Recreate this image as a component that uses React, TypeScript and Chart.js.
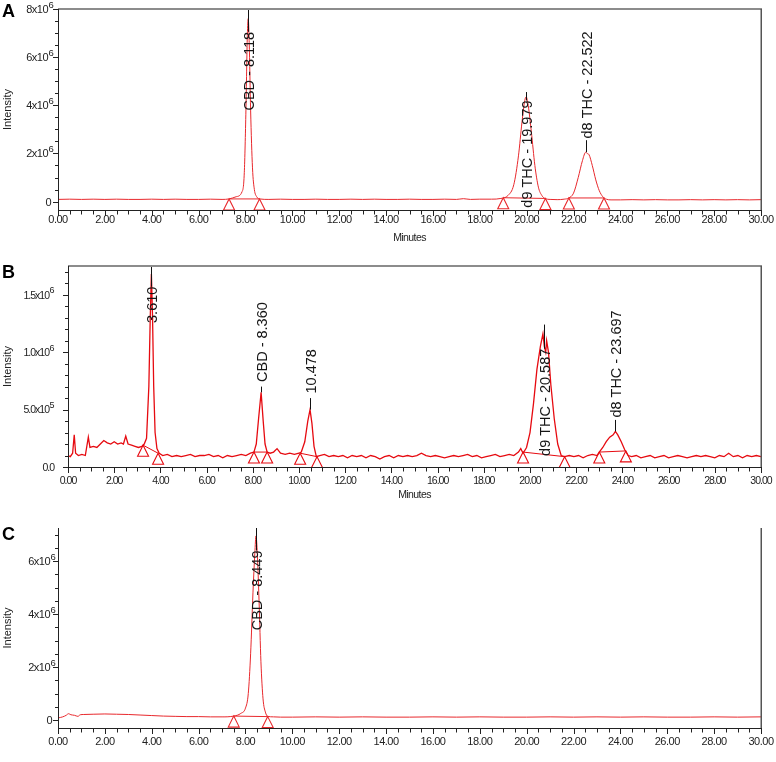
import { useEffect, useRef } from 'react';
import { Chart, registerables } from 'chart.js';

Chart.register(...registerables);

const FONT = '"Liberation Sans", Arial, Helvetica, sans-serif';

// ---------- Shared x axis (minutes) ----------
const xTickValues = [0, 2, 4, 6, 8, 10, 12, 14, 16, 18, 20, 22, 24, 26, 28, 30];

// ---------- Panel A (intensity in units of 10^6) ----------
const timeA = [
  0, 0.5, 1, 1.5, 2, 2.5, 3, 3.5, 4, 4.5, 5, 5.5, 6, 6.5, 7, 7.3, 7.6, 7.85, 7.95, 8.02, 8.08, 8.118,
  8.16, 8.22, 8.3, 8.38, 8.48, 8.6, 9, 9.5, 10, 10.5, 11, 11.5, 12, 12.5, 13, 13.5, 14, 14.5, 15,
  15.5, 16, 16.5, 17, 17.3, 17.6, 18, 18.5, 18.9, 19.2, 19.45, 19.65, 19.8, 19.92, 19.979, 20.05,
  20.2, 20.35, 20.5, 20.65, 20.8, 21, 21.3, 21.6, 21.8, 22, 22.2, 22.38, 22.522, 22.58, 22.66, 22.8,
  22.95, 23.1, 23.25, 23.4, 23.6, 24, 24.5, 25, 25.5, 26, 26.5, 27, 27.5, 28, 28.5, 29, 29.5, 30,
];
const intensityA = [
  0.09, 0.1, 0.09, 0.1, 0.09, 0.1, 0.09, 0.09, 0.1, 0.09, 0.1, 0.09, 0.09, 0.1, 0.09, 0.11, 0.2, 0.4,
  1.2, 3.8, 6.9, 7.6, 6.6, 3.8, 1.4, 0.5, 0.2, 0.11, 0.09, 0.1, 0.09, 0.09, 0.1, 0.09, 0.09, 0.1,
  0.09, 0.1, 0.09, 0.09, 0.1, 0.09, 0.09, 0.1, 0.09, 0.12, 0.09, 0.1, 0.1, 0.13, 0.25, 0.7, 1.9, 3.3,
  4.2, 4.35, 4.1, 2.9, 1.5, 0.6, 0.25, 0.12, 0.09, 0.08, 0.1, 0.15, 0.35, 1.0, 1.7, 2.05, 2.0, 1.95,
  1.5, 0.9, 0.45, 0.2, 0.1, 0.07, 0.07, 0.08, 0.07, 0.08, 0.07, 0.07, 0.08, 0.07, 0.08, 0.07, 0.08,
  0.07, 0.08,
];
const integStartTimeA = [7.3, 19.0, 21.8];
const integStartValueA = [0.11, 0.16, 0.15];
const integEndTimeA = [8.6, 20.8, 23.3];
const integEndValueA = [0.11, 0.13, 0.15];
const peakTextA = ['CBD - 8.118', 'd9 THC - 19.979', 'd8 THC - 22.522'];
const peakTimeA = [8.118, 19.979, 22.522];
const peakApexA = [7.6, 4.35, 2.05];
const peakTickTopA = [8, 4.55, 2.55];
const peakAnchorA = [7.05, 4.2, 2.62];
const peakDirA = ['down', 'down', 'up'];
const yTickValuesA = [0, 2, 4, 6, 8];
const yTickMantissaA = ['0', '2x10', '4x10', '6x10', '8x10'];
const yTickExponentA = ['', '6', '6', '6', '6'];

// ---------- Panel B ----------
const timeB = [
  0, 0.1, 0.2, 0.27, 0.33, 0.45, 0.6, 0.75, 0.88, 0.95, 1.1, 1.25, 1.4, 1.55, 1.7, 1.85, 2.0, 2.15,
  2.3, 2.4, 2.5, 2.6, 2.75, 2.9, 3.05, 3.2, 3.3, 3.4, 3.5, 3.56, 3.61, 3.66, 3.71, 3.77, 3.85, 3.95,
  4.1, 4.3, 4.5, 4.7, 4.9, 5.1, 5.3, 5.5, 5.7, 5.9, 6.1, 6.3, 6.5, 6.7, 6.9, 7.1, 7.3, 7.5, 7.7, 7.9,
  8.05, 8.15, 8.25, 8.36, 8.45, 8.53, 8.62, 8.75, 8.9, 9.05, 9.2, 9.4, 9.6, 9.8, 10.0, 10.1, 10.25,
  10.38, 10.478, 10.56, 10.65, 10.75, 10.9, 11.1, 11.3, 11.5, 11.7, 11.9, 12.1, 12.3, 12.5, 12.7,
  12.9, 13.1, 13.3, 13.5, 13.7, 13.9, 14.1, 14.3, 14.5, 14.7, 14.9, 15.1, 15.3, 15.5, 15.7, 15.9,
  16.1, 16.3, 16.5, 16.7, 16.9, 17.1, 17.3, 17.5, 17.7, 17.9, 18.1, 18.3, 18.5, 18.7, 18.9, 19.1,
  19.3, 19.5, 19.6, 19.7, 19.85, 20.0, 20.15, 20.3, 20.45, 20.56, 20.62, 20.68, 20.72, 20.8, 20.9,
  21.05, 21.2, 21.35, 21.5, 21.7, 21.9, 22.1, 22.3, 22.5, 22.7, 22.9, 23.0, 23.15, 23.3, 23.45, 23.6,
  23.697, 23.8, 23.95, 24.1, 24.25, 24.4, 24.6, 24.8, 25.0, 25.2, 25.4, 25.6, 25.8, 26.0, 26.2, 26.4,
  26.6, 26.8, 27.0, 27.2, 27.4, 27.6, 27.8, 28.0, 28.2, 28.4, 28.6, 28.8, 29.0, 29.2, 29.4, 29.6,
  29.8, 30.0,
];
const intensityB = [
  0.1, 0.09, 0.12, 0.28, 0.12, 0.1, 0.11, 0.1, 0.26, 0.17, 0.18, 0.17, 0.2, 0.23, 0.21, 0.2, 0.22,
  0.2, 0.21, 0.2, 0.27, 0.2, 0.19, 0.18, 0.17, 0.18, 0.2, 0.25, 0.7, 1.3, 1.68, 1.3, 0.7, 0.3, 0.16,
  0.12, 0.1, 0.11, 0.09, 0.1, 0.09, 0.1, 0.11, 0.09, 0.1, 0.1, 0.11, 0.09, 0.1, 0.08, 0.1, 0.09, 0.1,
  0.11, 0.1, 0.12, 0.13, 0.2, 0.42, 0.65, 0.4, 0.2, 0.13, 0.12, 0.13, 0.16, 0.12, 0.11, 0.12, 0.11,
  0.12, 0.13, 0.22, 0.4, 0.5, 0.38, 0.18, 0.09, 0.1, 0.11, 0.09, 0.1, 0.09, 0.1, 0.08, 0.1, 0.09,
  0.1, 0.08, 0.1, 0.09, 0.07, 0.09, 0.1, 0.08, 0.1, 0.09, 0.1, 0.09, 0.1, 0.12, 0.1, 0.09, 0.1, 0.09,
  0.08, 0.09, 0.1, 0.09, 0.1, 0.11, 0.09, 0.1, 0.08, 0.09, 0.1, 0.11, 0.09, 0.1, 0.11, 0.1, 0.13,
  0.16, 0.12, 0.17, 0.3, 0.55, 0.85, 1.05, 1.16, 1.05, 1.0, 1.1, 1.0, 0.72, 0.42, 0.2, 0.1, 0.09,
  0.1, 0.09, 0.1, 0.08, 0.1, 0.11, 0.1, 0.13, 0.17, 0.22, 0.26, 0.28, 0.31, 0.28, 0.22, 0.15, 0.1,
  0.09, 0.1, 0.08, 0.09, 0.1, 0.08, 0.09, 0.1, 0.08, 0.09, 0.1, 0.09, 0.08, 0.09, 0.1, 0.09, 0.1,
  0.09, 0.08, 0.1, 0.09, 0.12, 0.09, 0.1, 0.08, 0.1, 0.09, 0.1, 0.09,
];
const integStartTimeB = [3.25, 8.05, 10.05, 19.7, 23.0];
const integStartValueB = [0.19, 0.13, 0.12, 0.13, 0.13];
const integEndTimeB = [3.9, 8.62, 10.78, 21.5, 24.15];
const integEndValueB = [0.12, 0.13, 0.09, 0.09, 0.14];
const peakTextB = ['3.610', 'CBD - 8.360', '10.478', 'd9 THC - 20.587', 'd8 THC - 23.697'];
const peakTimeB = [3.61, 8.36, 10.478, 20.587, 23.697];
const peakApexB = [1.68, 0.65, 0.5, 1.16, 0.31];
const peakTickTopB = [1.75, 0.7, 0.6, 1.24, 0.41];
const peakAnchorB = [1.57, 0.74, 0.64, 1.03, 0.43];
const peakDirB = ['down', 'up', 'up', 'down', 'up'];
const yTickValuesB = [0, 0.5, 1.0, 1.5];
const yTickMantissaB = ['0.0', '5.0x10', '1.0x10', '1.5x10'];
const yTickExponentB = ['', '5', '6', '6'];

// ---------- Panel C ----------
const timeC = [
  0, 0.2, 0.35, 0.45, 0.55, 0.7, 0.85, 0.95, 1.1, 1.5, 2.0, 2.5, 3.0, 3.5, 4.0, 4.5, 5.0, 5.5, 6.0,
  6.5, 7.0, 7.5, 7.8, 8.0, 8.12, 8.22, 8.32, 8.4, 8.449, 8.5, 8.58, 8.66, 8.75, 8.85, 8.95, 9.2, 9.5,
  10, 11, 12, 13, 14, 15, 16, 17, 18, 19, 20, 21, 22, 23, 24, 25, 26, 27, 28, 29, 30,
];
const intensityC = [
  0.08, 0.12, 0.18, 0.24, 0.2, 0.18, 0.14, 0.2, 0.21, 0.22, 0.23, 0.22, 0.21, 0.19, 0.17, 0.15,
  0.14, 0.13, 0.13, 0.12, 0.12, 0.15, 0.25, 0.45, 1.0, 2.5, 4.8, 6.3, 6.95, 6.4, 4.5, 2.2, 0.8, 0.3,
  0.14, 0.12, 0.11, 0.11, 0.12, 0.11, 0.12, 0.11, 0.11, 0.12, 0.11, 0.12, 0.11, 0.11, 0.12, 0.11,
  0.12, 0.11, 0.12, 0.11, 0.11, 0.12, 0.11, 0.12,
];
const integStartTimeC = [7.5];
const integStartValueC = [0.15];
const integEndTimeC = [8.95];
const integEndValueC = [0.13];
const peakTextC = ['CBD - 8.449'];
const peakTimeC = [8.449];
const peakApexC = [6.95];
const peakTickTopC = [7.25];
const peakAnchorC = [6.4];
const peakDirC = ['down'];
const yTickValuesC = [0, 2, 4, 6];
const yTickMantissaC = ['0', '2x10', '4x10', '6x10'];
const yTickExponentC = ['', '6', '6', '6'];

// ---------- Panel layout & style ----------
type PanelSpec = {
  letter: string;
  top: number;
  height: number;
  pad: { left: number; right: number; top: number; bottom: number };
  yMin: number;
  yMax: number;
  yMinorStep: number;
  time: number[];
  intensity: number[];
  integ: [number[], number[], number[], number[]];
  peaks: { text: string[]; time: number[]; apex: number[]; tickTop: number[]; anchor: number[]; dir: string[] };
  yTicks: { values: number[]; mantissa: string[]; exponent: string[] };
  traceColor: string;
  traceWidth: number;
  tension: boolean;
  topBorder: boolean;
  tickFont: number;
  tickSpacing: number;
  xLabelOffset: number;
  yBaseOffset: number;
  yZeroOffset: number;
  minutesY: number | null;
  letterY: number;
};

const panels: PanelSpec[] = [
  {
    letter: 'A', top: 0, height: 250,
    pad: { left: 58, right: 15, top: 9, bottom: 40 },
    yMin: -0.35, yMax: 8, yMinorStep: 0.5,
    time: timeA, intensity: intensityA,
    integ: [integStartTimeA, integStartValueA, integEndTimeA, integEndValueA],
    peaks: { text: peakTextA, time: peakTimeA, apex: peakApexA, tickTop: peakTickTopA, anchor: peakAnchorA, dir: peakDirA },
    yTicks: { values: yTickValuesA, mantissa: yTickMantissaA, exponent: yTickExponentA },
    traceColor: 'rgb(232,40,44)', traceWidth: 1, tension: true, topBorder: true,
    tickFont: 11, tickSpacing: -0.5, xLabelOffset: 10, yBaseOffset: 10, yZeroOffset: 7,
    minutesY: 238, letterY: 17,
  },
  {
    letter: 'B', top: 250, height: 250,
    pad: { left: 68, right: 15, top: 16, bottom: 33 },
    yMin: 0, yMax: 1.75, yMinorStep: 0.1,
    time: timeB, intensity: intensityB,
    integ: [integStartTimeB, integStartValueB, integEndTimeB, integEndValueB],
    peaks: { text: peakTextB, time: peakTimeB, apex: peakApexB, tickTop: peakTickTopB, anchor: peakAnchorB, dir: peakDirB },
    yTicks: { values: yTickValuesB, mantissa: yTickMantissaB, exponent: yTickExponentB },
    traceColor: 'rgb(230,10,16)', traceWidth: 1.3, tension: false, topBorder: true,
    tickFont: 10.5, tickSpacing: -1, xLabelOffset: 14, yBaseOffset: 19, yZeroOffset: 14,
    minutesY: 245, letterY: 28,
  },
  {
    letter: 'C', top: 500, height: 262,
    pad: { left: 58, right: 15, top: 28, bottom: 34 },
    yMin: -0.3, yMax: 7.25, yMinorStep: 0.5,
    time: timeC, intensity: intensityC,
    integ: [integStartTimeC, integStartValueC, integEndTimeC, integEndValueC],
    peaks: { text: peakTextC, time: peakTimeC, apex: peakApexC, tickTop: peakTickTopC, anchor: peakAnchorC, dir: peakDirC },
    yTicks: { values: yTickValuesC, mantissa: yTickMantissaC, exponent: yTickExponentC },
    traceColor: 'rgb(232,40,44)', traceWidth: 1, tension: true, topBorder: false,
    tickFont: 11, tickSpacing: -0.5, xLabelOffset: 14, yBaseOffset: 8, yZeroOffset: 6,
    minutesY: null, letterY: 40,
  },
];

function line(ctx: CanvasRenderingContext2D, x1: number, y1: number, x2: number, y2: number) {
  ctx.beginPath();
  ctx.moveTo(x1, y1);
  ctx.lineTo(x2, y2);
  ctx.stroke();
}

function makePlugin(p: PanelSpec) {
  return {
    id: 'chrom' + p.letter,
    afterDatasetsDraw(chart: any) {
      const ctx: CanvasRenderingContext2D = chart.ctx;
      const xs = chart.scales.x;
      const ys = chart.scales.y;
      const { left, right, top, bottom } = chart.chartArea;
      // integration markers (triangles)
      ctx.save();
      ctx.beginPath();
      ctx.rect(left, top, right - left, bottom - top);
      ctx.clip();
      ctx.strokeStyle = p.traceColor;
      ctx.lineWidth = 1.1;
      const [st, sv, et, ev] = p.integ;
      const pts: number[][] = [];
      st.forEach((t, i) => { pts.push([t, sv[i]]); pts.push([et[i], ev[i]]); });
      pts.forEach(([t, v]) => {
        const x = xs.getPixelForValue(t);
        const y = ys.getPixelForValue(v);
        ctx.beginPath();
        ctx.moveTo(x, y);
        ctx.lineTo(x - 5.5, y + 11);
        ctx.lineTo(x + 5.5, y + 11);
        ctx.closePath();
        ctx.stroke();
      });
      ctx.restore();

      // peak labels
      ctx.save();
      const pk = p.peaks;
      pk.text.forEach((text, i) => {
        const x = Math.round(xs.getPixelForValue(pk.time[i])) + 0.5;
        const yTick = Math.max(top, ys.getPixelForValue(pk.tickTop[i]));
        const yAnchor = ys.getPixelForValue(pk.anchor[i]);
        const yApex = ys.getPixelForValue(pk.apex[i]);
        ctx.strokeStyle = '#111';
        ctx.lineWidth = 1;
        if (pk.dir[i] === 'down') line(ctx, x, yTick, x, yAnchor);
        else line(ctx, x, yApex, x, yTick);
        ctx.save();
        ctx.translate(x, pk.dir[i] === 'down' ? yAnchor : yAnchor);
        ctx.rotate(-Math.PI / 2);
        ctx.font = `14.5px ${FONT}`;
        ctx.fillStyle = '#151515';
        ctx.textBaseline = 'middle';
        ctx.textAlign = pk.dir[i] === 'down' ? 'right' : 'left';
        ctx.fillText(text, 0, 1);
        ctx.restore();
      });
      ctx.restore();
    },
    afterDraw(chart: any) {
      const ctx: CanvasRenderingContext2D = chart.ctx;
      const xs = chart.scales.x;
      const ys = chart.scales.y;
      const { left, right, top, bottom } = chart.chartArea;
      ctx.save();
      // frame
      if (p.topBorder) {
        ctx.strokeStyle = '#8c8c8c';
        ctx.lineWidth = 2;
        line(ctx, left, top, right + 1, top);
      }
      ctx.strokeStyle = '#555';
      ctx.lineWidth = 1.5;
      line(ctx, right + 0.25, top, right + 0.25, bottom + 1);
      ctx.strokeStyle = '#222';
      ctx.lineWidth = 1;
      line(ctx, left + 0.5, top, left + 0.5, bottom + 1);
      line(ctx, left, bottom + 0.5, right + 1, bottom + 0.5);

      // x ticks
      for (let i = 0; i <= 60; i++) {
        const t = i * 0.5;
        const x = Math.round(xs.getPixelForValue(t)) + 0.5;
        const major = i % 4 === 0;
        line(ctx, x, bottom, x, bottom + (major ? 6 : 4.5));
      }
      ctx.fillStyle = '#222';
      ctx.font = `${p.tickFont}px ${FONT}`;
      (ctx as any).letterSpacing = `${p.tickSpacing}px`;
      ctx.textAlign = 'center';
      ctx.textBaseline = 'middle';
      xTickValues.forEach((t) => {
        ctx.fillText(t.toFixed(2), xs.getPixelForValue(t), bottom + p.xLabelOffset);
      });
      if (p.minutesY !== null) {
        ctx.font = `10.5px ${FONT}`;
        (ctx as any).letterSpacing = '-0.6px';
        ctx.fillText('Minutes', (left + right) / 2, p.minutesY);
      }

      // y ticks
      const steps = Math.floor((p.yMax - p.yMin) / p.yMinorStep + 1e-6);
      const first = Math.ceil(p.yMin / p.yMinorStep - 1e-6);
      for (let k = first; k <= first + steps; k++) {
        const v = k * p.yMinorStep;
        if (v > p.yMax + 1e-6) break;
        const y = Math.round(ys.getPixelForValue(v)) + 0.5;
        const major = p.yTicks.values.some((mv) => Math.abs(mv - v) < 1e-6);
        line(ctx, left - (major ? 5 : 3), y, left, y);
      }
      p.yTicks.values.forEach((v, i) => {
        const y = ys.getPixelForValue(v);
        const exp = p.yTicks.exponent[i];
        ctx.font = `${p.tickFont}px ${FONT}`;
        (ctx as any).letterSpacing = `${p.tickSpacing}px`;
        ctx.textAlign = 'right';
        ctx.textBaseline = 'middle';
        if (exp) {
          ctx.fillText(p.yTicks.mantissa[i], left - p.yBaseOffset, y + 1);
          ctx.font = `${p.tickFont - 1.5}px ${FONT}`;
          ctx.textAlign = 'left';
          ctx.fillText(exp, left - p.yBaseOffset + 0.5, y - 4);
        } else {
          ctx.fillText(p.yTicks.mantissa[i], left - p.yZeroOffset, y + 1);
        }
      });
      (ctx as any).letterSpacing = '0px';

      // axis title
      ctx.save();
      ctx.translate(8, (top + bottom) / 2);
      ctx.rotate(-Math.PI / 2);
      ctx.font = `11px ${FONT}`;
      ctx.textAlign = 'center';
      ctx.textBaseline = 'middle';
      ctx.fillStyle = '#222';
      ctx.fillText('Intensity', 0, 0);
      ctx.restore();

      // panel letter
      ctx.font = `bold 18px ${FONT}`;
      ctx.textAlign = 'left';
      ctx.textBaseline = 'alphabetic';
      ctx.fillStyle = '#000';
      ctx.fillText(p.letter, 2, p.letterY);
      ctx.restore();
    },
  };
}

function PanelChart({ p }: { p: PanelSpec }) {
  const ref = useRef<HTMLCanvasElement>(null);
  useEffect(() => {
    if (!ref.current) return;
    const trace = p.time.map((t, i) => ({ x: t, y: p.intensity[i] }));
    const [st, sv, et, ev] = p.integ;
    const integSets = st.map((t, i) => ({
      data: [{ x: t, y: sv[i] }, { x: et[i], y: ev[i] }],
      borderColor: p.traceColor,
      borderWidth: 1,
      pointRadius: 0,
      tension: 0,
      fill: false,
    }));
    const chart = new Chart(ref.current, {
      type: 'line',
      data: {
        datasets: [
          {
            data: trace,
            borderColor: p.traceColor,
            borderWidth: p.traceWidth,
            pointRadius: 0,
            fill: false,
            tension: 0,
            cubicInterpolationMode: p.tension ? 'monotone' : 'default',
          } as any,
          ...integSets,
        ],
      },
      options: {
        animation: false,
        responsive: false,
        events: [],
        layout: { padding: p.pad },
        plugins: { legend: { display: false }, tooltip: { enabled: false }, title: { display: false } },
        scales: {
          x: { type: 'linear', min: 0, max: 30, display: false },
          y: { type: 'linear', min: p.yMin, max: p.yMax, display: false },
        },
      },
      plugins: [makePlugin(p)],
    });
    return () => chart.destroy();
  }, [p]);
  return (
    <div style={{ position: 'absolute', left: 0, top: p.top, width: 776, height: p.height }}>
      <canvas ref={ref} width={776} height={p.height} style={{ display: 'block', width: 776, height: p.height }} />
    </div>
  );
}

export default function App() {
  return (
    <div style={{ position: 'absolute', left: 0, top: 0, width: 776, height: 762, background: '#fff', overflow: 'hidden' }}>
      {panels.map((p) => (
        <PanelChart key={p.letter} p={p} />
      ))}
    </div>
  );
}
